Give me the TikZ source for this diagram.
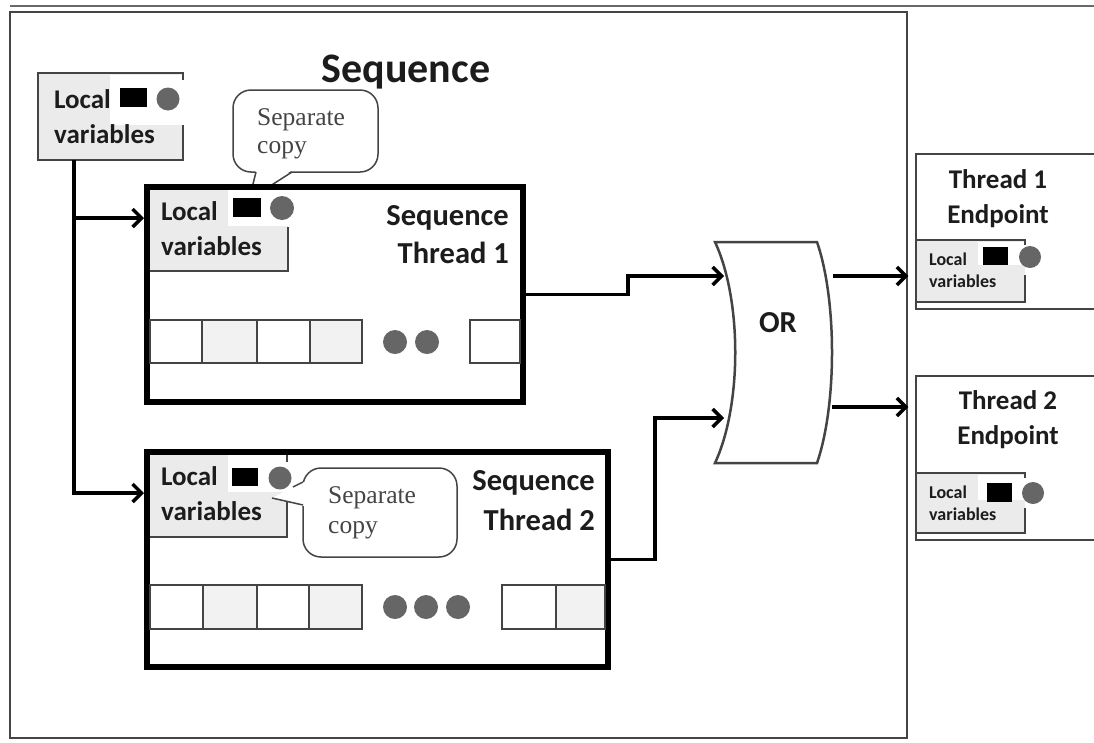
\documentclass[tikz,border=0pt]{standalone}
\usepackage{fontspec}
\setmainfont{Carlito}
\newfontfamily\notefont{Liberation Serif}
\usetikzlibrary{arrows.meta}
\definecolor{edge}{HTML}{444444}
\definecolor{lvgray}{HTML}{EBEBEB}
\definecolor{slotgray}{HTML}{F2F2F2}
\definecolor{dotgray}{HTML}{666666}
\definecolor{ink}{HTML}{1C1C1C}
\begin{document}
\begin{tikzpicture}[x=1pt,y=-1pt,
  frame/.style={draw=edge, line width=2.5pt, inner sep=0pt},
  tbox/.style={draw=black, line width=6pt, fill=white, inner sep=0pt},
  epbox/.style={draw=edge, line width=2.5pt, fill=white, inner sep=0pt},
  conn/.style={line width=3.5pt, black},
  arr/.style={conn, -{Straight Barb[length=9pt,width=18pt]}},
  lvedge/.style={draw=edge, line width=2.5pt},
  cell/.style={draw=edge, line width=2pt},
  callout/.style={draw=edge, line width=1.5pt, fill=white, rounded corners=18pt, inner sep=0pt},
  tail/.style={draw=edge, line width=1.5pt},
  gate/.style={draw=edge, line width=2.5pt, fill=white},
  lbl/.style={font=\fontsize{27}{32}\selectfont\bfseries, text=ink, inner sep=0pt},
  small/.style={font=\fontsize{18}{21}\selectfont\bfseries, text=ink, inner sep=0pt},
  head/.style={font=\fontsize{30.5}{36}\selectfont\bfseries, text=ink, inner sep=0pt},
  ephead/.style={font=\fontsize{27}{32}\selectfont\bfseries, text=ink, inner sep=0pt},
  titlefont/.style={font=\fontsize{42}{50}\selectfont\bfseries, text=ink, inner sep=0pt},
  note/.style={font=\notefont\fontsize{25.5}{30}\selectfont, text=edge, inner sep=0pt},
]
\useasboundingbox (0,0) rectangle (1094,742);
\fill[white] (0,0) rectangle (1094,742);

% outer frame and top rule
\draw[edge!80, line width=2pt] (10,6) -- (1094,6);
\node[frame, minimum width=897pt, minimum height=726pt] (fr) at (458.5,375) {};

% title
\node[titlefont, anchor=base] (title) at (406,82) {Sequence};

% shared local variables
\node[fill=lvgray, inner sep=0pt, minimum width=145pt, minimum height=87pt] (lv0) at (110.5,116.5) {};
\fill[white] (110,75) rectangle (183,125);
\draw[lvedge] (183,80) -- (183,73) -- (38,73) -- (38,160) -- (183,160) -- (183,125);
\node[lbl, anchor=base west] (lv0a) at (54,108) {Local};
\node[lbl, anchor=base west] (lv0b) at (54,143) {variables};
\fill[black] (120,88) rectangle (147,107);
\fill[dotgray] (168,99) circle (11.5pt);

% callout above thread 1
\node[callout, minimum width=145pt, minimum height=82pt] (c1) at (305.5,131) {};
\fill[white] (256,170) -- (251,188) -- (268,188) -- (292,170) -- cycle;
\draw[tail] (256,172) -- (252,188);
\draw[tail] (292,172) -- (267,188);
\node[note, anchor=base west] (c1a) at (257,125) {Separate};
\node[note, anchor=base west] (c1b) at (257,153) {copy};

% sequence thread 1
\node[tbox, minimum width=376pt, minimum height=215pt] (t1) at (335,294.5) {};
\fill[lvgray] (150,190) rectangle (288,271);
\fill[white] (228,190) rectangle (288,226);
\draw[lvedge] (150,271) -- (288,271) -- (288,227);
\node[lbl, anchor=base west] (lv1a) at (161,220) {Local};
\node[lbl, anchor=base west] (lv1b) at (161,255) {variables};
\fill[black] (233,198) rectangle (261,217);
\fill[dotgray] (282,208) circle (12pt);
\node[head, anchor=base east] (t1a) at (509,225) {Sequence};
\node[head, anchor=base east] (t1b) at (509,263) {Thread 1};
\draw[cell, fill=white] (150,320) rectangle (202,363);
\draw[cell, fill=slotgray] (202,320) rectangle (257,363);
\draw[cell, fill=white] (257,320) rectangle (310,363);
\draw[cell, fill=slotgray] (310,320) rectangle (362,363);
\draw[cell, fill=white] (470,320) rectangle (520,363);
\fill[dotgray] (395,342) circle (12pt);
\fill[dotgray] (427,342) circle (12pt);

% sequence thread 2
\node[tbox, minimum width=461pt, minimum height=215pt] (t2) at (377.5,559.5) {};
\fill[lvgray] (150,455) rectangle (287,537);
\fill[white] (228,455) rectangle (287,492);
\draw[lvedge] (150,537) -- (287,537) -- (287,502);
\draw[lvedge] (287,455) -- (287,462);
\node[lbl, anchor=base west] (lv2a) at (161,485) {Local};
\node[lbl, anchor=base west] (lv2b) at (161,520) {variables};
\fill[black] (232,468) rectangle (258,486);
\fill[dotgray] (280,478) circle (11.5pt);
\node[head, anchor=base east] (t2a) at (595,490) {Sequence};
\node[head, anchor=base east] (t2b) at (595,530) {Thread 2};
\draw[cell, fill=white] (150,585) rectangle (203,629);
\draw[cell, fill=slotgray] (203,585) rectangle (257,629);
\draw[cell, fill=white] (257,585) rectangle (309,629);
\draw[cell, fill=slotgray] (309,585) rectangle (362,629);
\draw[cell, fill=white] (502,585) rectangle (556,629);
\draw[cell, fill=slotgray] (556,585) rectangle (605,629);
\fill[dotgray] (395,607) circle (12pt);
\fill[dotgray] (426,607) circle (12pt);
\fill[dotgray] (458,607) circle (12pt);

% callout beside thread 2
\node[callout, minimum width=154pt, minimum height=89pt] (c2) at (380,512.5) {};
\fill[white] (304,482) -- (293,487) -- (272,498) -- (304,506) -- (308,506) -- (308,482) -- cycle;
\draw[tail] (303,482) -- (293,487);
\draw[tail] (272,498) -- (303,505);
\node[note, anchor=base west] (c2a) at (328,503) {Separate};
\node[note, anchor=base west] (c2b) at (328,533) {copy};

% OR gate
\draw[gate] (715,242) .. controls (742,300) and (742,405) .. (715,463)
  -- (817,463) .. controls (837,405) and (837,300) .. (817,242) -- cycle;
\node[head, anchor=base] (orl) at (778,332) {OR};
\coordinate (orin1) at (724,276);
\coordinate (orin2) at (724,418);
\coordinate (orout1) at (833,276);
\coordinate (orout2) at (832,407);

% endpoints
\node[epbox, minimum width=194pt, minimum height=155pt] (ep1) at (1013,231.5) {};
\node[ephead, anchor=base] (ep1a) at (998,188) {Thread 1};
\node[ephead, anchor=base] (ep1b) at (998,223) {Endpoint};
\fill[lvgray] (916,240) rectangle (1025,302);
\fill[white] (978,242) rectangle (1025,265);
\draw[lvedge] (1025,245) -- (1025,240) -- (916,240) -- (916,302) -- (1025,302) -- (1025,275);
\node[small, anchor=base west] (e1a) at (929,265) {Local};
\node[small, anchor=base west] (e1b) at (929,287) {variables};
\fill[black] (983,247) rectangle (1008,265);
\fill[dotgray] (1030,257) circle (11pt);

\node[epbox, minimum width=194pt, minimum height=164pt] (ep2) at (1013,458) {};
\node[ephead, anchor=base] (ep2a) at (1008,409) {Thread 2};
\node[ephead, anchor=base] (ep2b) at (1008,444) {Endpoint};
\fill[lvgray] (916,473) rectangle (1025,533);
\fill[white] (978,475) rectangle (1025,500);
\draw[lvedge] (1025,478) -- (1025,473) -- (916,473) -- (916,533) -- (1025,533) -- (1025,508);
\node[small, anchor=base west] (e2a) at (929,498) {Local};
\node[small, anchor=base west] (e2b) at (929,520) {variables};
\fill[black] (987,483) rectangle (1012,502);
\fill[dotgray] (1033,493) circle (11pt);

% connectors
\coordinate (trunk) at (74,160);
\coordinate (y1) at (0,218);
\coordinate (y2) at (0,493);
\draw[conn] (trunk) -- (trunk |- y2);
\draw[arr] (trunk) |- (t1.west |- y1);
\draw[arr] (trunk) |- (t2.west |- y2);
\draw[arr] (t1.east) -- ++(102,0) |- (orin1);
\draw[arr] (t2.east) -- ++(44,0) |- (orin2);
\draw[arr] (orout1) -- (fr.east |- orout1);
\draw[arr] (orout2) -- (fr.east |- orout2);
\end{tikzpicture}
\end{document}
